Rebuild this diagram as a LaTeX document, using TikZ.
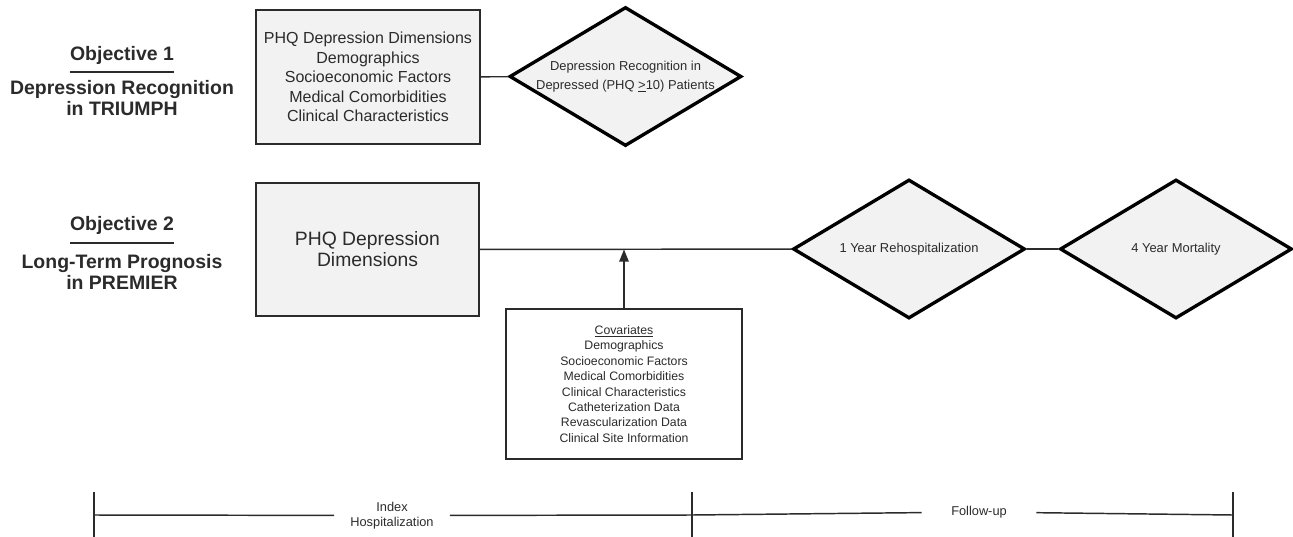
\documentclass[tikz,border=0pt]{standalone}
\usepackage{fontspec}
\setmainfont{Liberation Sans}
\usetikzlibrary{shapes.geometric,arrows.meta}
\definecolor{boxgray}{HTML}{F2F2F2}
\definecolor{inkgray}{HTML}{2B2B2B}
\begin{document}
\begin{tikzpicture}[
    x=0.75pt, y=-0.75pt,
    every node/.style={text=inkgray},
    objtext/.style={font=\fontsize{14.6}{15.6}\selectfont\bfseries, align=center},
    varbox/.style={draw=inkgray, line width=1.1pt, fill=boxgray, align=center, inner sep=0pt},
    covbox/.style={draw=inkgray, line width=1.1pt, fill=white, align=center, inner sep=0pt},
    outcome/.style={diamond, draw=black, line width=2.5pt, fill=boxgray, inner sep=0pt,
      minimum width=174pt, minimum height=104.25pt},
    dtext/.style={font=\fontsize{9.7}{14.3}\selectfont, align=center},
    link/.style={draw=inkgray, line width=1.1pt},
    period/.style={font=\fontsize{9.6}{11.25}\selectfont, align=center, inner ysep=0pt}
  ]
  \useasboundingbox (0,0) rectangle (1293,536);

  \node[objtext] (obj1) at (122,55) {Objective 1};
  \draw[line width=1.5pt, inkgray] (70,72) -- (174,72);
  \node[objtext] (aim1) at (122,98) {Depression Recognition\\in TRIUMPH};

  \node[objtext] (obj2) at (122,225) {Objective 2};
  \draw[line width=1.5pt, inkgray] (70,243) -- (174,243);
  \node[objtext] (aim2) at (122,272) {Long-Term Prognosis\\in PREMIER};

  \node[varbox, minimum width=168pt, minimum height=100.5pt,
    font=\fontsize{12}{14.6}\selectfont] (pred1) at (368,77)
    {PHQ Depression Dimensions\\Demographics\\Socioeconomic Factors\\Medical Comorbidities\\Clinical Characteristics};
  \node[outcome, label={[dtext]center:{Depression Recognition in\\Depressed (PHQ \underline{>}10) Patients}}]
    (recog) at (625.5,76.5) {};
  \draw[link] (pred1) -- (recog);

  \node[varbox, minimum width=167.25pt, minimum height=99.75pt,
    font=\fontsize{14.5}{15.75}\selectfont] (pred2) at (367.5,249.5)
    {PHQ Depression\\Dimensions};
  \node[outcome, label={[dtext]center:{1 Year Rehospitalization}}] (rehosp) at (909,249) {};
  \node[outcome, label={[dtext]center:{4 Year Mortality}}] (mort) at (1176,249) {};
  \draw[link] (pred2) -- (rehosp);
  \draw[link] (rehosp) -- (mort);

  \node[covbox, minimum width=177pt, minimum height=112.5pt,
    font=\fontsize{9.2}{11.57}\selectfont] (covar) at (624,384)
    {\underline{Covariates}\\Demographics\\Socioeconomic Factors\\Medical Comorbidities\\Clinical Characteristics\\Catheterization Data\\Revascularization Data\\Clinical Site Information};
  \coordinate (adjust) at (covar.north |- pred2.east);
  \draw[link, -{Triangle[length=9pt, width=7pt]}] (covar) -- (adjust);

  \coordinate (tstart) at (94,515);
  \coordinate (tmid) at (692,515);
  \coordinate (tend) at (1233,515);
  \node[period, inner xsep=12pt] (index) at (392,515.5) {Index\\Hospitalization};
  \node[period, inner xsep=22pt] (follow) at (979,512) {Follow-up};
  \draw[link] (tstart) -- (index) -- (tmid) -- (follow) -- (tend);
  \foreach \t in {tstart,tmid,tend}
    \draw[link] (\t) ++(0,-23) -- ++(0,46);
\end{tikzpicture}
\end{document}
